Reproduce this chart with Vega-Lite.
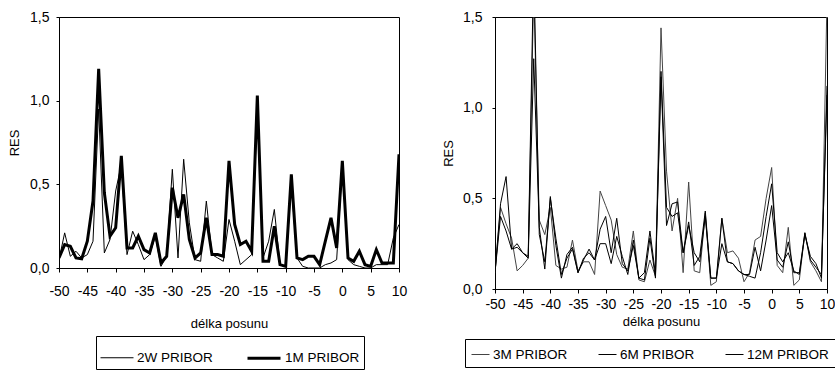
{
  "$schema": "https://vega.github.io/schema/vega-lite/v6.json",
  "background": "white",
  "padding": {"left": 8, "top": 9, "right": 0, "bottom": 0},
  "spacing": 34,
  "config": {
    "font": "Liberation Sans",
    "view": {"stroke": "#000", "strokeWidth": 1},
    "axis": {"grid": false, "domainColor": "#000", "tickColor": "#000", "labelColor": "#000", "titleColor": "#000", "labelFont": "Liberation Sans", "labelFontSize": 14, "titleFont": "Liberation Sans", "titleFontSize": 13, "titleFontWeight": "normal", "tickSize": 4, "domainWidth": 1, "tickWidth": 1, "labelFlush": false, "labelOverlap": false},
    "legend": {"labelFont": "Liberation Sans", "labelFontSize": 13.5, "labelColor": "#000", "strokeColor": "#000", "symbolType": "stroke", "direction": "horizontal", "orient": "none"}
  },
  "resolve": {"scale": {"color": "independent", "strokeWidth": "independent"}, "legend": {"color": "independent", "strokeWidth": "independent"}},
  "hconcat": [
    {
      "width": 340,
      "height": 251,
      "data": {"values": [
        {"posun": -50, "serie": "2W PRIBOR", "RES": 0.05}, {"posun": -50, "serie": "1M PRIBOR", "RES": 0.06},
        {"posun": -49, "serie": "2W PRIBOR", "RES": 0.21}, {"posun": -49, "serie": "1M PRIBOR", "RES": 0.14},
        {"posun": -48, "serie": "2W PRIBOR", "RES": 0.07}, {"posun": -48, "serie": "1M PRIBOR", "RES": 0.13},
        {"posun": -47, "serie": "2W PRIBOR", "RES": 0.10}, {"posun": -47, "serie": "1M PRIBOR", "RES": 0.06},
        {"posun": -46, "serie": "2W PRIBOR", "RES": 0.06}, {"posun": -46, "serie": "1M PRIBOR", "RES": 0.055},
        {"posun": -45, "serie": "2W PRIBOR", "RES": 0.08}, {"posun": -45, "serie": "1M PRIBOR", "RES": 0.16},
        {"posun": -44, "serie": "2W PRIBOR", "RES": 0.16}, {"posun": -44, "serie": "1M PRIBOR", "RES": 0.40},
        {"posun": -43, "serie": "2W PRIBOR", "RES": 0.95}, {"posun": -43, "serie": "1M PRIBOR", "RES": 1.19},
        {"posun": -42, "serie": "2W PRIBOR", "RES": 0.09}, {"posun": -42, "serie": "1M PRIBOR", "RES": 0.45},
        {"posun": -41, "serie": "2W PRIBOR", "RES": 0.17}, {"posun": -41, "serie": "1M PRIBOR", "RES": 0.19},
        {"posun": -40, "serie": "2W PRIBOR", "RES": 0.46}, {"posun": -40, "serie": "1M PRIBOR", "RES": 0.24},
        {"posun": -39, "serie": "2W PRIBOR", "RES": 0.62}, {"posun": -39, "serie": "1M PRIBOR", "RES": 0.67},
        {"posun": -38, "serie": "2W PRIBOR", "RES": 0.08}, {"posun": -38, "serie": "1M PRIBOR", "RES": 0.12},
        {"posun": -37, "serie": "2W PRIBOR", "RES": 0.22}, {"posun": -37, "serie": "1M PRIBOR", "RES": 0.12},
        {"posun": -36, "serie": "2W PRIBOR", "RES": 0.14}, {"posun": -36, "serie": "1M PRIBOR", "RES": 0.19},
        {"posun": -35, "serie": "2W PRIBOR", "RES": 0.05}, {"posun": -35, "serie": "1M PRIBOR", "RES": 0.11},
        {"posun": -34, "serie": "2W PRIBOR", "RES": 0.08}, {"posun": -34, "serie": "1M PRIBOR", "RES": 0.09},
        {"posun": -33, "serie": "2W PRIBOR", "RES": 0.19}, {"posun": -33, "serie": "1M PRIBOR", "RES": 0.21},
        {"posun": -32, "serie": "2W PRIBOR", "RES": 0.01}, {"posun": -32, "serie": "1M PRIBOR", "RES": 0.03},
        {"posun": -31, "serie": "2W PRIBOR", "RES": 0.07}, {"posun": -31, "serie": "1M PRIBOR", "RES": 0.07},
        {"posun": -30, "serie": "2W PRIBOR", "RES": 0.59}, {"posun": -30, "serie": "1M PRIBOR", "RES": 0.48},
        {"posun": -29, "serie": "2W PRIBOR", "RES": 0.06}, {"posun": -29, "serie": "1M PRIBOR", "RES": 0.30},
        {"posun": -28, "serie": "2W PRIBOR", "RES": 0.65}, {"posun": -28, "serie": "1M PRIBOR", "RES": 0.44},
        {"posun": -27, "serie": "2W PRIBOR", "RES": 0.27}, {"posun": -27, "serie": "1M PRIBOR", "RES": 0.17},
        {"posun": -26, "serie": "2W PRIBOR", "RES": 0.05}, {"posun": -26, "serie": "1M PRIBOR", "RES": 0.06},
        {"posun": -25, "serie": "2W PRIBOR", "RES": 0.04}, {"posun": -25, "serie": "1M PRIBOR", "RES": 0.09},
        {"posun": -24, "serie": "2W PRIBOR", "RES": 0.40}, {"posun": -24, "serie": "1M PRIBOR", "RES": 0.30},
        {"posun": -23, "serie": "2W PRIBOR", "RES": 0.08}, {"posun": -23, "serie": "1M PRIBOR", "RES": 0.08},
        {"posun": -22, "serie": "2W PRIBOR", "RES": 0.06}, {"posun": -22, "serie": "1M PRIBOR", "RES": 0.08},
        {"posun": -21, "serie": "2W PRIBOR", "RES": 0.04}, {"posun": -21, "serie": "1M PRIBOR", "RES": 0.07},
        {"posun": -20, "serie": "2W PRIBOR", "RES": 0.29}, {"posun": -20, "serie": "1M PRIBOR", "RES": 0.64},
        {"posun": -19, "serie": "2W PRIBOR", "RES": 0.16}, {"posun": -19, "serie": "1M PRIBOR", "RES": 0.26},
        {"posun": -18, "serie": "2W PRIBOR", "RES": 0.02}, {"posun": -18, "serie": "1M PRIBOR", "RES": 0.14},
        {"posun": -17, "serie": "2W PRIBOR", "RES": 0.05}, {"posun": -17, "serie": "1M PRIBOR", "RES": 0.16},
        {"posun": -16, "serie": "2W PRIBOR", "RES": 0.08}, {"posun": -16, "serie": "1M PRIBOR", "RES": 0.10},
        {"posun": -15, "serie": "2W PRIBOR", "RES": 0.95}, {"posun": -15, "serie": "1M PRIBOR", "RES": 1.03},
        {"posun": -14, "serie": "2W PRIBOR", "RES": 0.06}, {"posun": -14, "serie": "1M PRIBOR", "RES": 0.04},
        {"posun": -13, "serie": "2W PRIBOR", "RES": 0.16}, {"posun": -13, "serie": "1M PRIBOR", "RES": 0.04},
        {"posun": -12, "serie": "2W PRIBOR", "RES": 0.35}, {"posun": -12, "serie": "1M PRIBOR", "RES": 0.25},
        {"posun": -11, "serie": "2W PRIBOR", "RES": 0.02}, {"posun": -11, "serie": "1M PRIBOR", "RES": 0.02},
        {"posun": -10, "serie": "2W PRIBOR", "RES": 0.01}, {"posun": -10, "serie": "1M PRIBOR", "RES": 0.01},
        {"posun": -9, "serie": "2W PRIBOR", "RES": 0.50}, {"posun": -9, "serie": "1M PRIBOR", "RES": 0.56},
        {"posun": -8, "serie": "2W PRIBOR", "RES": 0.06}, {"posun": -8, "serie": "1M PRIBOR", "RES": 0.06},
        {"posun": -7, "serie": "2W PRIBOR", "RES": 0.01}, {"posun": -7, "serie": "1M PRIBOR", "RES": 0.05},
        {"posun": -6, "serie": "2W PRIBOR", "RES": 0.0}, {"posun": -6, "serie": "1M PRIBOR", "RES": 0.07},
        {"posun": -5, "serie": "2W PRIBOR", "RES": 0.0}, {"posun": -5, "serie": "1M PRIBOR", "RES": 0.07},
        {"posun": -4, "serie": "2W PRIBOR", "RES": 0.0}, {"posun": -4, "serie": "1M PRIBOR", "RES": 0.02},
        {"posun": -3, "serie": "2W PRIBOR", "RES": 0.02}, {"posun": -3, "serie": "1M PRIBOR", "RES": 0.16},
        {"posun": -2, "serie": "2W PRIBOR", "RES": 0.03}, {"posun": -2, "serie": "1M PRIBOR", "RES": 0.30},
        {"posun": -1, "serie": "2W PRIBOR", "RES": 0.05}, {"posun": -1, "serie": "1M PRIBOR", "RES": 0.12},
        {"posun": 0, "serie": "2W PRIBOR", "RES": 0.62}, {"posun": 0, "serie": "1M PRIBOR", "RES": 0.64},
        {"posun": 1, "serie": "2W PRIBOR", "RES": 0.05}, {"posun": 1, "serie": "1M PRIBOR", "RES": 0.06},
        {"posun": 2, "serie": "2W PRIBOR", "RES": 0.02}, {"posun": 2, "serie": "1M PRIBOR", "RES": 0.04},
        {"posun": 3, "serie": "2W PRIBOR", "RES": 0.01}, {"posun": 3, "serie": "1M PRIBOR", "RES": 0.10},
        {"posun": 4, "serie": "2W PRIBOR", "RES": 0.0}, {"posun": 4, "serie": "1M PRIBOR", "RES": 0.02},
        {"posun": 5, "serie": "2W PRIBOR", "RES": 0.0}, {"posun": 5, "serie": "1M PRIBOR", "RES": 0.01},
        {"posun": 6, "serie": "2W PRIBOR", "RES": 0.02}, {"posun": 6, "serie": "1M PRIBOR", "RES": 0.11},
        {"posun": 7, "serie": "2W PRIBOR", "RES": 0.02}, {"posun": 7, "serie": "1M PRIBOR", "RES": 0.03},
        {"posun": 8, "serie": "2W PRIBOR", "RES": 0.02}, {"posun": 8, "serie": "1M PRIBOR", "RES": 0.03},
        {"posun": 9, "serie": "2W PRIBOR", "RES": 0.18}, {"posun": 9, "serie": "1M PRIBOR", "RES": 0.03},
        {"posun": 10, "serie": "2W PRIBOR", "RES": 0.26}, {"posun": 10, "serie": "1M PRIBOR", "RES": 0.68}
      ]},
      "mark": {"type": "line", "clip": true},
      "encoding": {
        "x": {"field": "posun", "type": "quantitative", "scale": {"domain": [-50, 10], "nice": false, "zero": false},
          "axis": {"title": "délka posunu", "values": [-50, -45, -40, -35, -30, -25, -20, -15, -10, -5, 0, 5, 10], "labelExpr": "datum.value + ''", "labelPadding": 12, "titlePadding": 19}},
        "y": {"field": "RES", "type": "quantitative", "scale": {"domain": [0, 1.5], "nice": false},
          "axis": {"title": "RES", "values": [0, 0.5, 1, 1.5], "labelExpr": "replace(format(datum.value, '.1f'), '.', ',')", "tickSize": 3, "labelPadding": 7, "titlePadding": 8}},
        "color": {"field": "serie", "type": "nominal", "scale": {"domain": ["2W PRIBOR", "1M PRIBOR"], "range": ["#000000", "#000000"]},
          "legend": {"title": null, "orient": "none", "legendX": 37, "legendY": 319, "direction": "horizontal", "symbolType": "stroke", "symbolSize": 1089, "labelOffset": 3, "columnPadding": 28, "padding": 4}},
        "strokeWidth": {"field": "serie", "type": "nominal", "scale": {"domain": ["2W PRIBOR", "1M PRIBOR"], "range": [1, 3]},
          "legend": {"title": null, "orient": "none", "legendX": 37, "legendY": 319, "direction": "horizontal", "symbolType": "stroke", "symbolSize": 1089, "labelOffset": 3, "columnPadding": 28, "padding": 4}}
      }
    },
    {
      "width": 332,
      "height": 272,
      "data": {"values": [
        {"posun": -50, "serie": "3M PRIBOR", "RES": 0.09}, {"posun": -50, "serie": "6M PRIBOR", "RES": 0.09}, {"posun": -50, "serie": "12M PRIBOR", "RES": 0.09},
        {"posun": -49, "serie": "3M PRIBOR", "RES": 0.45}, {"posun": -49, "serie": "6M PRIBOR", "RES": 0.40}, {"posun": -49, "serie": "12M PRIBOR", "RES": 0.47},
        {"posun": -48, "serie": "3M PRIBOR", "RES": 0.36}, {"posun": -48, "serie": "6M PRIBOR", "RES": 0.32}, {"posun": -48, "serie": "12M PRIBOR", "RES": 0.62},
        {"posun": -47, "serie": "3M PRIBOR", "RES": 0.28}, {"posun": -47, "serie": "6M PRIBOR", "RES": 0.22}, {"posun": -47, "serie": "12M PRIBOR", "RES": 0.22},
        {"posun": -46, "serie": "3M PRIBOR", "RES": 0.10}, {"posun": -46, "serie": "6M PRIBOR", "RES": 0.25}, {"posun": -46, "serie": "12M PRIBOR", "RES": 0.23},
        {"posun": -45, "serie": "3M PRIBOR", "RES": 0.13}, {"posun": -45, "serie": "6M PRIBOR", "RES": 0.20}, {"posun": -45, "serie": "12M PRIBOR", "RES": 0.20},
        {"posun": -44, "serie": "3M PRIBOR", "RES": 0.17}, {"posun": -44, "serie": "6M PRIBOR", "RES": 0.18}, {"posun": -44, "serie": "12M PRIBOR", "RES": 0.17},
        {"posun": -43, "serie": "3M PRIBOR", "RES": 1.65}, {"posun": -43, "serie": "6M PRIBOR", "RES": 1.8}, {"posun": -43, "serie": "12M PRIBOR", "RES": 1.27},
        {"posun": -42, "serie": "3M PRIBOR", "RES": 0.38}, {"posun": -42, "serie": "6M PRIBOR", "RES": 0.30}, {"posun": -42, "serie": "12M PRIBOR", "RES": 0.34},
        {"posun": -41, "serie": "3M PRIBOR", "RES": 0.30}, {"posun": -41, "serie": "6M PRIBOR", "RES": 0.15}, {"posun": -41, "serie": "12M PRIBOR", "RES": 0.11},
        {"posun": -40, "serie": "3M PRIBOR", "RES": 0.45}, {"posun": -40, "serie": "6M PRIBOR", "RES": 0.50}, {"posun": -40, "serie": "12M PRIBOR", "RES": 0.51},
        {"posun": -39, "serie": "3M PRIBOR", "RES": 0.13}, {"posun": -39, "serie": "6M PRIBOR", "RES": 0.28}, {"posun": -39, "serie": "12M PRIBOR", "RES": 0.24},
        {"posun": -38, "serie": "3M PRIBOR", "RES": 0.11}, {"posun": -38, "serie": "6M PRIBOR", "RES": 0.08}, {"posun": -38, "serie": "12M PRIBOR", "RES": 0.06},
        {"posun": -37, "serie": "3M PRIBOR", "RES": 0.12}, {"posun": -37, "serie": "6M PRIBOR", "RES": 0.17}, {"posun": -37, "serie": "12M PRIBOR", "RES": 0.19},
        {"posun": -36, "serie": "3M PRIBOR", "RES": 0.27}, {"posun": -36, "serie": "6M PRIBOR", "RES": 0.22}, {"posun": -36, "serie": "12M PRIBOR", "RES": 0.23},
        {"posun": -35, "serie": "3M PRIBOR", "RES": 0.10}, {"posun": -35, "serie": "6M PRIBOR", "RES": 0.09}, {"posun": -35, "serie": "12M PRIBOR", "RES": 0.09},
        {"posun": -34, "serie": "3M PRIBOR", "RES": 0.15}, {"posun": -34, "serie": "6M PRIBOR", "RES": 0.17}, {"posun": -34, "serie": "12M PRIBOR", "RES": 0.16},
        {"posun": -33, "serie": "3M PRIBOR", "RES": 0.15}, {"posun": -33, "serie": "6M PRIBOR", "RES": 0.20}, {"posun": -33, "serie": "12M PRIBOR", "RES": 0.22},
        {"posun": -32, "serie": "3M PRIBOR", "RES": 0.08}, {"posun": -32, "serie": "6M PRIBOR", "RES": 0.16}, {"posun": -32, "serie": "12M PRIBOR", "RES": 0.16},
        {"posun": -31, "serie": "3M PRIBOR", "RES": 0.54}, {"posun": -31, "serie": "6M PRIBOR", "RES": 0.33}, {"posun": -31, "serie": "12M PRIBOR", "RES": 0.25},
        {"posun": -30, "serie": "3M PRIBOR", "RES": 0.46}, {"posun": -30, "serie": "6M PRIBOR", "RES": 0.40}, {"posun": -30, "serie": "12M PRIBOR", "RES": 0.25},
        {"posun": -29, "serie": "3M PRIBOR", "RES": 0.38}, {"posun": -29, "serie": "6M PRIBOR", "RES": 0.20}, {"posun": -29, "serie": "12M PRIBOR", "RES": 0.14},
        {"posun": -28, "serie": "3M PRIBOR", "RES": 0.19}, {"posun": -28, "serie": "6M PRIBOR", "RES": 0.39}, {"posun": -28, "serie": "12M PRIBOR", "RES": 0.29},
        {"posun": -27, "serie": "3M PRIBOR", "RES": 0.12}, {"posun": -27, "serie": "6M PRIBOR", "RES": 0.14}, {"posun": -27, "serie": "12M PRIBOR", "RES": 0.18},
        {"posun": -26, "serie": "3M PRIBOR", "RES": 0.11}, {"posun": -26, "serie": "6M PRIBOR", "RES": 0.10}, {"posun": -26, "serie": "12M PRIBOR", "RES": 0.08},
        {"posun": -25, "serie": "3M PRIBOR", "RES": 0.32}, {"posun": -25, "serie": "6M PRIBOR", "RES": 0.24}, {"posun": -25, "serie": "12M PRIBOR", "RES": 0.27},
        {"posun": -24, "serie": "3M PRIBOR", "RES": 0.05}, {"posun": -24, "serie": "6M PRIBOR", "RES": 0.06}, {"posun": -24, "serie": "12M PRIBOR", "RES": 0.06},
        {"posun": -23, "serie": "3M PRIBOR", "RES": 0.04}, {"posun": -23, "serie": "6M PRIBOR", "RES": 0.09}, {"posun": -23, "serie": "12M PRIBOR", "RES": 0.05},
        {"posun": -22, "serie": "3M PRIBOR", "RES": 0.16}, {"posun": -22, "serie": "6M PRIBOR", "RES": 0.32}, {"posun": -22, "serie": "12M PRIBOR", "RES": 0.28},
        {"posun": -21, "serie": "3M PRIBOR", "RES": 0.07}, {"posun": -21, "serie": "6M PRIBOR", "RES": 0.08}, {"posun": -21, "serie": "12M PRIBOR", "RES": 0.06},
        {"posun": -20, "serie": "3M PRIBOR", "RES": 1.44}, {"posun": -20, "serie": "6M PRIBOR", "RES": 1.20}, {"posun": -20, "serie": "12M PRIBOR", "RES": 1.17},
        {"posun": -19, "serie": "3M PRIBOR", "RES": 0.65}, {"posun": -19, "serie": "6M PRIBOR", "RES": 0.45}, {"posun": -19, "serie": "12M PRIBOR", "RES": 0.35},
        {"posun": -18, "serie": "3M PRIBOR", "RES": 0.32}, {"posun": -18, "serie": "6M PRIBOR", "RES": 0.40}, {"posun": -18, "serie": "12M PRIBOR", "RES": 0.47},
        {"posun": -17, "serie": "3M PRIBOR", "RES": 0.50}, {"posun": -17, "serie": "6M PRIBOR", "RES": 0.42}, {"posun": -17, "serie": "12M PRIBOR", "RES": 0.48},
        {"posun": -16, "serie": "3M PRIBOR", "RES": 0.09}, {"posun": -16, "serie": "6M PRIBOR", "RES": 0.20}, {"posun": -16, "serie": "12M PRIBOR", "RES": 0.20},
        {"posun": -15, "serie": "3M PRIBOR", "RES": 0.59}, {"posun": -15, "serie": "6M PRIBOR", "RES": 0.35}, {"posun": -15, "serie": "12M PRIBOR", "RES": 0.37},
        {"posun": -14, "serie": "3M PRIBOR", "RES": 0.10}, {"posun": -14, "serie": "6M PRIBOR", "RES": 0.20}, {"posun": -14, "serie": "12M PRIBOR", "RES": 0.13},
        {"posun": -13, "serie": "3M PRIBOR", "RES": 0.09}, {"posun": -13, "serie": "6M PRIBOR", "RES": 0.15}, {"posun": -13, "serie": "12M PRIBOR", "RES": 0.18},
        {"posun": -12, "serie": "3M PRIBOR", "RES": 0.42}, {"posun": -12, "serie": "6M PRIBOR", "RES": 0.40}, {"posun": -12, "serie": "12M PRIBOR", "RES": 0.43},
        {"posun": -11, "serie": "3M PRIBOR", "RES": 0.02}, {"posun": -11, "serie": "6M PRIBOR", "RES": 0.06}, {"posun": -11, "serie": "12M PRIBOR", "RES": 0.06},
        {"posun": -10, "serie": "3M PRIBOR", "RES": 0.04}, {"posun": -10, "serie": "6M PRIBOR", "RES": 0.06}, {"posun": -10, "serie": "12M PRIBOR", "RES": 0.06},
        {"posun": -9, "serie": "3M PRIBOR", "RES": 0.39}, {"posun": -9, "serie": "6M PRIBOR", "RES": 0.25}, {"posun": -9, "serie": "12M PRIBOR", "RES": 0.39},
        {"posun": -8, "serie": "3M PRIBOR", "RES": 0.20}, {"posun": -8, "serie": "6M PRIBOR", "RES": 0.15}, {"posun": -8, "serie": "12M PRIBOR", "RES": 0.15},
        {"posun": -7, "serie": "3M PRIBOR", "RES": 0.21}, {"posun": -7, "serie": "6M PRIBOR", "RES": 0.14}, {"posun": -7, "serie": "12M PRIBOR", "RES": 0.14},
        {"posun": -6, "serie": "3M PRIBOR", "RES": 0.17}, {"posun": -6, "serie": "6M PRIBOR", "RES": 0.10}, {"posun": -6, "serie": "12M PRIBOR", "RES": 0.10},
        {"posun": -5, "serie": "3M PRIBOR", "RES": 0.04}, {"posun": -5, "serie": "6M PRIBOR", "RES": 0.08}, {"posun": -5, "serie": "12M PRIBOR", "RES": 0.08},
        {"posun": -4, "serie": "3M PRIBOR", "RES": 0.09}, {"posun": -4, "serie": "6M PRIBOR", "RES": 0.07}, {"posun": -4, "serie": "12M PRIBOR", "RES": 0.08},
        {"posun": -3, "serie": "3M PRIBOR", "RES": 0.27}, {"posun": -3, "serie": "6M PRIBOR", "RES": 0.06}, {"posun": -3, "serie": "12M PRIBOR", "RES": 0.23},
        {"posun": -2, "serie": "3M PRIBOR", "RES": 0.29}, {"posun": -2, "serie": "6M PRIBOR", "RES": 0.20}, {"posun": -2, "serie": "12M PRIBOR", "RES": 0.10},
        {"posun": -1, "serie": "3M PRIBOR", "RES": 0.50}, {"posun": -1, "serie": "6M PRIBOR", "RES": 0.40}, {"posun": -1, "serie": "12M PRIBOR", "RES": 0.27},
        {"posun": 0, "serie": "3M PRIBOR", "RES": 0.67}, {"posun": 0, "serie": "6M PRIBOR", "RES": 0.58}, {"posun": 0, "serie": "12M PRIBOR", "RES": 0.46},
        {"posun": 1, "serie": "3M PRIBOR", "RES": 0.13}, {"posun": 1, "serie": "6M PRIBOR", "RES": 0.20}, {"posun": 1, "serie": "12M PRIBOR", "RES": 0.16},
        {"posun": 2, "serie": "3M PRIBOR", "RES": 0.09}, {"posun": 2, "serie": "6M PRIBOR", "RES": 0.15}, {"posun": 2, "serie": "12M PRIBOR", "RES": 0.12},
        {"posun": 3, "serie": "3M PRIBOR", "RES": 0.34}, {"posun": 3, "serie": "6M PRIBOR", "RES": 0.20}, {"posun": 3, "serie": "12M PRIBOR", "RES": 0.26},
        {"posun": 4, "serie": "3M PRIBOR", "RES": 0.02}, {"posun": 4, "serie": "6M PRIBOR", "RES": 0.10}, {"posun": 4, "serie": "12M PRIBOR", "RES": 0.09},
        {"posun": 5, "serie": "3M PRIBOR", "RES": 0.05}, {"posun": 5, "serie": "6M PRIBOR", "RES": 0.08}, {"posun": 5, "serie": "12M PRIBOR", "RES": 0.09},
        {"posun": 6, "serie": "3M PRIBOR", "RES": 0.31}, {"posun": 6, "serie": "6M PRIBOR", "RES": 0.30}, {"posun": 6, "serie": "12M PRIBOR", "RES": 0.31},
        {"posun": 7, "serie": "3M PRIBOR", "RES": 0.15}, {"posun": 7, "serie": "6M PRIBOR", "RES": 0.18}, {"posun": 7, "serie": "12M PRIBOR", "RES": 0.16},
        {"posun": 8, "serie": "3M PRIBOR", "RES": 0.10}, {"posun": 8, "serie": "6M PRIBOR", "RES": 0.14}, {"posun": 8, "serie": "12M PRIBOR", "RES": 0.12},
        {"posun": 9, "serie": "3M PRIBOR", "RES": 0.04}, {"posun": 9, "serie": "6M PRIBOR", "RES": 0.06}, {"posun": 9, "serie": "12M PRIBOR", "RES": 0.08},
        {"posun": 10, "serie": "3M PRIBOR", "RES": 1.6}, {"posun": 10, "serie": "6M PRIBOR", "RES": 1.12}, {"posun": 10, "serie": "12M PRIBOR", "RES": 1.07}
      ]},
      "mark": {"type": "line", "clip": true},
      "encoding": {
        "x": {"field": "posun", "type": "quantitative", "scale": {"domain": [-50, 10], "nice": false, "zero": false},
          "axis": {"title": "délka posunu", "values": [-50, -45, -40, -35, -30, -25, -20, -15, -10, -5, 0, 5, 10], "labelExpr": "datum.value + ''", "labelPadding": 4, "titlePadding": 4}},
        "y": {"field": "RES", "type": "quantitative", "scale": {"domain": [0, 1.5], "nice": false},
          "axis": {"title": "RES", "values": [0, 0.5, 1, 1.5], "labelExpr": "replace(format(datum.value, '.1f'), '.', ',')", "tickSize": 3, "labelPadding": 10, "titlePadding": 7}},
        "color": {"field": "serie", "type": "nominal", "scale": {"domain": ["3M PRIBOR", "6M PRIBOR", "12M PRIBOR"], "range": ["#444444", "#000000", "#000000"]},
          "legend": {"title": null, "orient": "none", "legendX": -30, "legendY": 322, "direction": "horizontal", "symbolType": "stroke", "symbolSize": 324, "labelOffset": 3, "columnPadding": 28, "padding": 6}},
        "strokeWidth": {"field": "serie", "type": "nominal", "scale": {"domain": ["3M PRIBOR", "6M PRIBOR", "12M PRIBOR"], "range": [1, 1, 2.5]},
          "legend": {"title": null, "orient": "none", "legendX": -30, "legendY": 322, "direction": "horizontal", "symbolType": "stroke", "symbolSize": 324, "labelOffset": 3, "columnPadding": 28, "padding": 6}}
      }
    }
  ]
}
